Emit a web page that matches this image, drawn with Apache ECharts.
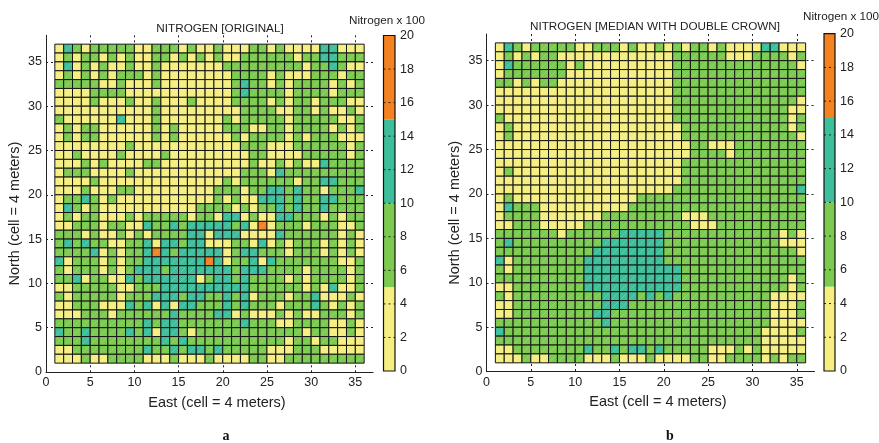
<!DOCTYPE html>
<html><head><meta charset="utf-8">
<style>html,body{margin:0;padding:0;background:#fff}#c{width:879px;height:443px}</style>
<script src="https://cdn.jsdelivr.net/npm/echarts@6/dist/echarts.min.js"></script>
</head><body><div id="c"></div>
<script>
// Rows run from north (y = 36) to south (y = 1); each letter is one cell, x = 1..35.
// Y: 0-5, G: 5-10, T: 10-15, O: 15-20 (Nitrogen x 100)
const originalRows = [
"YTGYGGGGGYYGGGYG"+"YYGYYYGGYGYYYYTTYYY",
"YGYGGYGYGYYGGYGY"+"GYGYYGGGGGGYGGTTGGG",
"YTYGYGYYGYYGYYYY"+"YYYGGGGGGGGGYGGTGYY",
"YGYGYGYGGGYGYYYY"+"YYYYGGGGYGYYYGGGYGG",
"GGGGGYYGYYYGYYYY"+"YYYYGTGGYGYGGGGYGYG",
"YYYYGGGGYYYYYYYY"+"YYYYGTGGGGYGGGGYGGG",
"YYYYGYYYGYYGYYYG"+"YYYYGGGGYGYGGYGGGYY",
"YYYYYYYYYYYGYYYY"+"YYYYYGGGGYYGGYGYYGY",
"GYYYYYYTYYYGYYYY"+"YYYGYGGGGGYGGGGGYYG",
"YGYGGYYYYYYGYGYY"+"YYYGGGYYGGYGGGGYGYG",
"YGYGGYYYYYYGYGYY"+"YYYYGYGGGGYGYGGGYYY",
"YYYYYYYYGYYYYYYY"+"YYYYYGGGYYYGGGGGGYG",
"YYGYYYYGYYYYGYYY"+"YYYYYYGGYYYYGGGGGYG",
"YYYGYGYYYYGGYYYY"+"YYYYYYGYYGYGYYTGGGG",
"YGGGYYYYGYYYYYYY"+"YYYYYGGGYTGGGGGGGGG",
"YYYYGYYYYYYYYYYY"+"YYYGYGGGGGGYGGTTGGG",
"YYYGYYYGGYYYYYYY"+"YYGGGYGGTTGTGGYGGGT",
"YGGTGYGYYYYYYYYY"+"YYGYGYYTTTGTGGTTGGG",
"YTGYGYYYYYYYYYYY"+"GGGGYGYGGTGTGGTGGGG",
"YGYGGYYYGYGGGGGY"+"GGYTTYGYYTTGGGYGYGG",
"YYGGGYGGYYTGGTGT"+"TTTTGTYOYGGGYGGGYYG",
"GGGYGYYGYGYGGGGT"+"TYTTTYYYYTGGGGGGYGY",
"GTGTGGYYGGTYTTGT"+"TYYYGGYTYGYGGGYGYGY",
"GGGGTYGYGGTOTGTT"+"TTTYGTTGGGYGGGYGYGY",
"TYGGGYGYGGTTTTTT"+"TOTYGGTYTGGGGGGGYYG",
"GYGGGYGYGTTTGTTT"+"TTTTGTTTGGGGYGGGGYG",
"GGTYGGYYTGTTTTTT"+"YGTTGTGGGGYGYGGGGYG",
"YYGGGGGYYGGGTTTT"+"TTTTTTGGGGGGYGYTYYG",
"GYGGGGGYGGGTTTGT"+"TGGTGTYGGGYGGTYYYGY",
"YYGGGYYYTGTYTYTT"+"GGGTGTGGGYGGGTGYGYG",
"YYYGGGYGGGGGGTGG"+"GGTTYGYYYGYGYYGGGYG",
"GGGGGGGGGGTGTTGG"+"GGGGGTGGGYYGGGGYYGY",
"TGGTGGGGTGTYTTGY"+"GGGGGGGGGGGGYGGYYGY",
"GGGTGGGGGGGGTGTG"+"GGGGGGGGGGYGGYGGYYY",
"YYGGGGGGGGTGGTGT"+"TGTGGGGGYYYGGGYYYYY",
"YYYGYYGGGGYYYGYY"+"YGYYYYGGYYGGGGGGGGG"
];
const medianRows = [
"YTGYGGGGGYYGGGYGY"+"YGYGYGGYGYYYYTTYYY",
"YGYGYGGYYYYYYYYYY"+"YYYGGGGGGYYYGGGGYG",
"YTGGGGGGYGYYYYYYY"+"YYYGGGGGGGGGGGGGGY",
"YGGGGGGGYYYYYYYYY"+"YYYGGGGGGGGGGGGGGG",
"GGYGYGGYYYYYYYYYY"+"YYYGGGGGGGGGGGGGGG",
"YYYYYYYYYYYYYYYYY"+"YYYGGGGGGGGGGGGGGG",
"YYYYYYYYYYYYYYYYY"+"YYYGGGGGGGGGGGGGGY",
"YYYYYYYYYYYYYYYYY"+"YYYGGGGGGGGGGGGGYY",
"GYYYYYYYYYYYYYYYY"+"YYYGGGGGGGGGGGGGYG",
"YGYYYYYYYYYYYYYYY"+"YYYYGGGGGGGGGGGGYG",
"YGYYYYYYYYYYYYYYY"+"YYYYGGGGGGGGGGGGGY",
"YYYYYYYYYYYYYYYYY"+"YYYYYGGYYYGGGGGGGG",
"YYYYYYYYYYYYYYYYY"+"YYYYYGGGGYGGGGGGGG",
"YYYYYYYYYYYYYYYYY"+"YYYYGGGGGGGGGGGGGG",
"YGYYYYYYYYYYYYYYY"+"YYYYGGGGGGGGGGGGGG",
"YYYYYYYYYYYYYYYYY"+"YYYYGGGGGGGGGGGGGG",
"YYYYYYYYYYYYYYYYY"+"YYYGGGGGGGGGGGGGGT",
"YGYYYYYYYYYYYYYYG"+"GGGGGGGGGGGGGGGGGG",
"YTGGGYYYYYYYYYYGG"+"GGGGGGGGGGGGGGGGGG",
"YGGGGYYYYYYYGGGGG"+"GGGGYYYGGGGGGGGGGG",
"YYGGGYYYYYGGGGGGG"+"GGGGGYYYGGGGGGGGGG",
"GGGGGGGYGGGGGGTTT"+"TTGGGGGGGGGGGGGYGY",
"GTGGGGGGGGGGTTTTT"+"TTGGGGGGGGGGGGGYYY",
"GGGGGGGGGGGTTTTTT"+"TTGGGGGGGGGGGGGGGY",
"TYGGGGGGGGTTTTTTT"+"TTGGGGGGGGGGGGGGGG",
"GYGGGGGGGGTTTTTTT"+"TTTTGGGGGGGGGGGGGG",
"GGGGGGGGGGTTTTTTT"+"TTTTGGGGGGGGGGGGYG",
"YYGGGGGGGGTTTTTTT"+"TTTTGGGGGGGGGGGGYG",
"GYGGGGGGGGGGTTTTG"+"TGTGGGGGGGGGGGYYYY",
"YYGGGGGGGGGGTTTGG"+"GGGGGGGGGGGGGGYYYG",
"YYGGGGGGGGGTTGGGG"+"GGGGGGGGGGGGGGYYYG",
"GGGGGGGGGGGGTGGGG"+"GGGGGGGGGGGGGGYYYY",
"TGGGGGGGGGGGGGGGG"+"GGGGGGGGGGGGGYYYYG",
"GGGGGGGGGGGGGGGGG"+"GGGGGGGGGGGGGYYYYY",
"YYGGGGGGGGTGGTGTT"+"GTGGGGGYYYGYGYYYYY",
"YYYGYYGGGGYYYGYYY"+"GYYYYGGYYGGGGYGYGG"
];
const classValues = {Y:2.5, G:7.5, T:12.5, O:17.5};
const bandLower = [0,5,10,15];
const bandUpper = [5,10,15,20];
const bandColors = ["#F5EE80","#7CCB50","#3DBF9B","#F58220"];
const colorTicks = [2,4,6,8,10,12,14,16,18];
const FONT = '"Liberation Sans", Arial, sans-serif';

function cells(rows){
  const out=[];
  rows.forEach((r,i)=>{ for(let c=0;c<r.length;c++) out.push([c+1, rows.length-i, classValues[r[c]]]); });
  return out;
}
function colorOf(v){ for(let i=0;i<4;i++) if(v>=bandLower[i]&&v<bandUpper[i]) return bandColors[i]; return bandColors[3]; }
function renderCell(params,api){
  const x=api.value(0), y=api.value(1), v=api.value(2);
  const a=api.coord([x,y+1]), b=api.coord([x+1,y]);
  return {type:'group',children:[
    {type:'rect',shape:{x:a[0],y:a[1],width:b[0]-a[0],height:b[1]-a[1]},
     style:{fill:colorOf(v),stroke:'#151515',lineWidth:1}},
    {type:'line',shape:{x1:a[0]+1,y1:b[1]-1,x2:b[0]-1,y2:a[1]+1},
     style:{stroke:'rgba(255,255,255,0.28)',lineWidth:0.6}}
  ]};
}
function renderBand(params,api){
  const a=api.coord([0,api.value(1)]), b=api.coord([1,api.value(0)]);
  return {type:'rect',shape:{x:a[0],y:a[1],width:b[0]-a[0],height:b[1]-a[1]},style:{fill:bandColors[params.dataIndex]}};
}
function renderTick(params,api){
  const a=api.coord([0,api.value(0)]), b=api.coord([1,api.value(0)]);
  return {type:'line',shape:{x1:a[0],y1:a[1],x2:b[0],y2:b[1]},style:{stroke:'#222',lineWidth:1,lineDash:[2,3]}};
}
function renderFrame(params,api){
  const a=api.coord([0,api.value(1)]), b=api.coord([1,api.value(0)]);
  return {type:'rect',shape:{x:a[0],y:a[1],width:b[0]-a[0],height:b[1]-a[1]},style:{fill:'none',stroke:'#111',lineWidth:1.2}};
}
const dash={show:true,showMaxLine:false,showMinLine:false,lineStyle:{color:'#222',type:[2,3],width:1}};
const axLine={show:true,onZero:false,lineStyle:{color:'#222',width:1}};
const lab={color:'#222',fontFamily:FONT,fontSize:12.5,margin:4,showMaxLabel:false};
const tStyle={fontFamily:FONT,fontSize:11.7,fontWeight:'normal',color:'#222'};
function xA(i,name){return {gridIndex:i,type:'value',min:0,max:37,interval:5,name:name,nameLocation:'middle',nameGap:23,
  nameTextStyle:{color:'#222',fontFamily:FONT,fontSize:14.5,padding:[0,0,0,15]},axisLine:axLine,axisTick:{show:false},splitLine:dash,axisLabel:lab};}
function yA(i,name){return {gridIndex:i,type:'value',min:0,max:38,interval:5,name:name,nameLocation:'middle',nameGap:24,
  nameTextStyle:{color:'#222',fontFamily:FONT,fontSize:14.5,padding:[0,20,0,0]},axisLine:axLine,axisTick:{show:false},splitLine:dash,axisLabel:lab};}
function cbX(i){return {gridIndex:i,type:'value',min:0,max:1,show:false};}
function cbY(i){return {gridIndex:i,type:'value',min:0,max:20,interval:2,position:'right',
  axisLine:{show:false},axisTick:{show:false},splitLine:{show:false},
  axisLabel:{color:'#222',fontFamily:FONT,fontSize:12.5,margin:5}};}
const bands=bandLower.map((l,i)=>[l,bandUpper[i]]);
const range=[[bandLower[0],bandUpper[3]]];
function cbSeries(i){return [
  {type:'custom',xAxisIndex:i,yAxisIndex:i,data:bands,renderItem:renderBand,silent:true,z:2},
  {type:'custom',xAxisIndex:i,yAxisIndex:i,data:colorTicks.map(t=>[t]),renderItem:renderTick,silent:true,z:3},
  {type:'custom',xAxisIndex:i,yAxisIndex:i,data:range,renderItem:renderFrame,silent:true,z:4}
];}
const option={
  animation:false,backgroundColor:'#fff',
  title:[
    {text:'NITROGEN [ORIGINAL]',left:215,top:18,textAlign:'center',textStyle:tStyle},
    {text:'Nitrogen x 100',left:344,top:10,textStyle:tStyle},
    {text:'NITROGEN [MEDIAN WITH DOUBLE CROWN]',left:650,top:16,textAlign:'center',textStyle:tStyle},
    {text:'Nitrogen x 100',left:798,top:6,textStyle:tStyle},
    {text:'a',left:221,top:424,textAlign:'center',textStyle:{fontFamily:'"Liberation Serif",serif',fontSize:14,fontWeight:'bold',color:'#111'}},
    {text:'b',left:665,top:424,textAlign:'center',textStyle:{fontFamily:'"Liberation Serif",serif',fontSize:14,fontWeight:'bold',color:'#111'}}
  ],
  grid:[
    {left:46,width:327,top:35.3,height:336.7},
    {left:486.5,width:328,top:34,height:337.7},
    {left:383.5,width:11.5,top:35.5,height:335.5},
    {left:824,width:11,top:33.7,height:337.3}
  ],
  xAxis:[xA(0,'East (cell = 4 meters)'),xA(1,'East (cell = 4 meters)'),cbX(2),cbX(3)],
  yAxis:[yA(0,'North (cell = 4 meters)'),yA(1,'North (cell = 4 meters)'),cbY(2),cbY(3)],
  series:[
    {type:'custom',xAxisIndex:0,yAxisIndex:0,data:cells(originalRows),renderItem:renderCell,silent:true,clip:true},
    {type:'custom',xAxisIndex:1,yAxisIndex:1,data:cells(medianRows),renderItem:renderCell,silent:true,clip:true}
  ].concat(cbSeries(2),cbSeries(3))
};
const chart=echarts.init(document.getElementById('c'),null,{renderer:'canvas'});
chart.setOption(option);
const lens=originalRows.concat(medianRows).map(r=>r.length).filter(n=>n!==35);
if(lens.length) console.error('bad row lengths',lens);
</script></body></html>
